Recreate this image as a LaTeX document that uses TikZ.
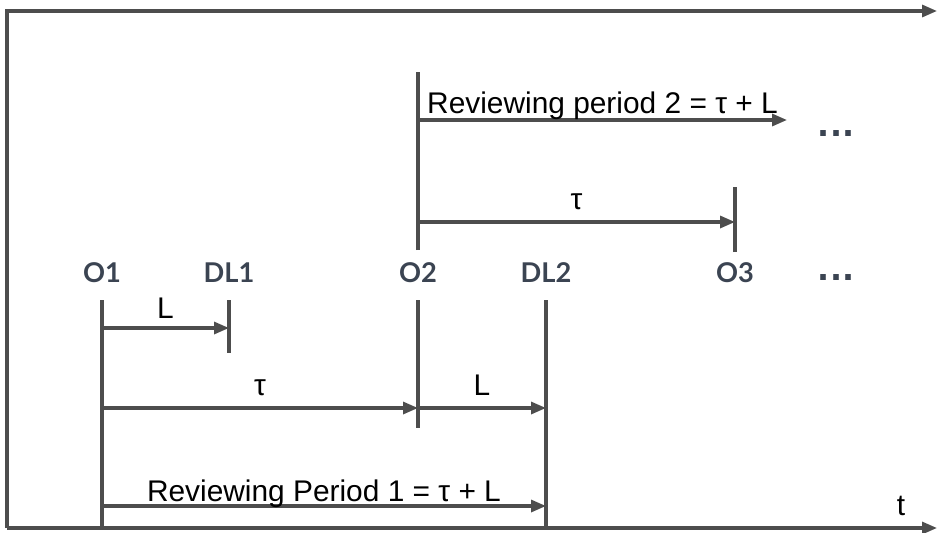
\documentclass[tikz,border=0pt]{standalone}
\usepackage{fontspec}
\setmainfont{Liberation Sans}
\newfontfamily\markfont{Lato}
\newfontfamily\dotsfont{DejaVu Sans}
\usetikzlibrary{arrows.meta}
\definecolor{linegray}{HTML}{4D4D4D}
\definecolor{markgray}{HTML}{3B4452}
\tikzset{
  mark label/.style={font=\markfont\bfseries\fontsize{15.5}{18}\selectfont,text=markgray},
  dots label/.style={font=\dotsfont\bfseries\fontsize{18}{21}\selectfont,text=markgray},
  span label/.style={font=\fontsize{17}{20}\selectfont,text=black},
}

\begin{document}
\begin{tikzpicture}[>={Triangle[length=3mm,width=2.4mm]},line width=1.8pt,color=linegray]
                \useasboundingbox (0,0) rectangle (18.74,10.64);
                % axes
                \coordinate (corner) at (0.14,10.42);
                \coordinate (origin) at (0.14,0.08);
                \coordinate (topend) at (18.74,10.42);
                \coordinate (tend) at (18.74,0.08);
                \draw[->] (origin) -- (corner) -- (topend);
                \draw[->] (origin) -- (tend);
                \node[span label] (t) at (18.02,0.52) {t};

                % order and deadline marks
                \node[mark label] (O1) at (2.04,5.18) {O1};
                \node[mark label] (DL1) at (4.58,5.18) {DL1};
                \node[mark label] (O2) at (8.36,5.18) {O2};
                \node[mark label] (DL2) at (10.92,5.18) {DL2};
                \node[mark label] (O3) at (14.70,5.18) {O3};
                \node[dots label] (more) at (16.72,5.08) {...};
                \node[dots label] (moretop) at (16.72,7.96) {...};

                % ticks
                \coordinate (O1a) at (2.04,4.64);  \coordinate (O1b) at (2.04,0.08);
                \coordinate (DL1a) at (4.58,4.64); \coordinate (DL1b) at (4.58,3.58);
                \coordinate (O2a) at (8.36,4.64);  \coordinate (O2b) at (8.36,2.08);
                \coordinate (O2c) at (8.36,5.64);  \coordinate (O2d) at (8.36,9.20);
                \coordinate (DL2a) at (10.92,4.64); \coordinate (DL2b) at (10.92,0.08);
                \coordinate (O3a) at (14.70,5.60); \coordinate (O3b) at (14.70,6.90);
                \draw (O1a) -- (O1b);
                \draw (DL1a) -- (DL1b);
                \draw (O2a) -- (O2b);
                \draw (O2c) -- (O2d);
                \draw (DL2a) -- (DL2b);
                \draw (O3a) -- (O3b);

                % spans
                \coordinate (L1s) at (2.04,4.08);  \coordinate (L1e) at (4.58,4.08);
                \coordinate (T1s) at (2.04,2.48);  \coordinate (T1e) at (8.36,2.48);
                \coordinate (L2e) at (10.92,2.48);
                \coordinate (R1s) at (2.04,0.52);  \coordinate (R1e) at (10.92,0.52);
                \coordinate (T2s) at (8.36,6.20);  \coordinate (T2e) at (14.70,6.20);
                \coordinate (R2s) at (8.36,8.24);  \coordinate (R2e) at (15.74,8.24);

                \path [->](L1s) edge node[span label,above=1pt] {L} (L1e);
                \path [->](T1s) edge node[span label,above=3pt] {τ} (T1e);
                \path [->](T1e) edge node[span label,above=3pt] {L} (L2e);
                \path [->](R1s) edge node[span label,above=-5pt] {Reviewing Period 1 = τ + L} (R1e);
                \path [->](T2s) edge node[span label,above=3pt] {τ} (T2e);
                \path [->](R2s) edge node[span label,above=-4pt] {Reviewing period 2 = τ + L} (R2e);
            \end{tikzpicture}
\end{document}
